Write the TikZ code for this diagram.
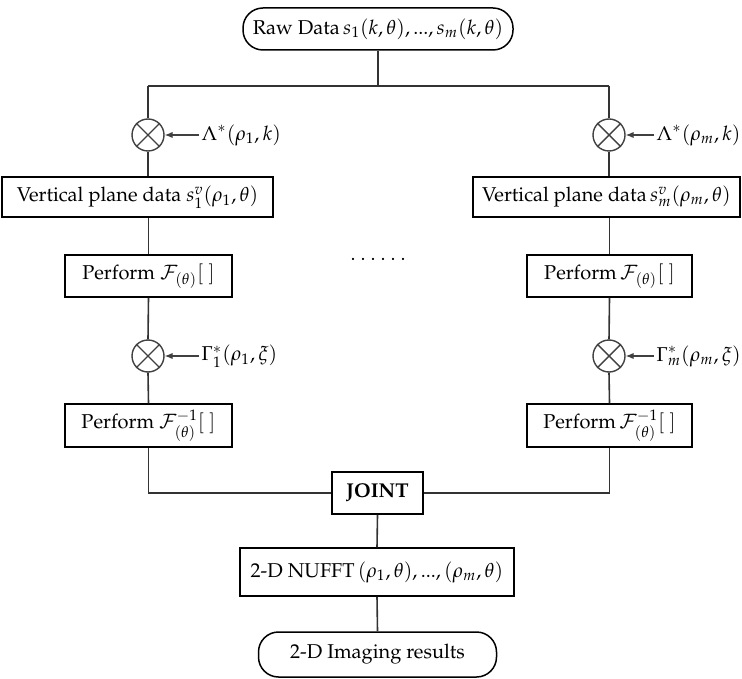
\documentclass[tikz,border=0pt]{standalone}
\usepackage[T1]{fontenc}
\usepackage{mathpazo}
\usetikzlibrary{arrows.meta}
\begin{document}
\begin{tikzpicture}[x=0.5pt,y=-0.5pt,
  every node/.style={font=\fontsize{10}{12}\selectfont},
  ln/.style={draw=black!80,line width=0.8pt},
  box/.style={draw,line width=0.75pt,rectangle,inner sep=0pt},
  term/.style={draw,line width=0.75pt,rectangle,rounded corners=10pt,inner sep=0pt},
  mult/.style={draw=black!75,line width=0.7pt,circle,minimum size=16pt,inner sep=0pt},
  lbl/.style={anchor=west,inner sep=1pt},
  arr/.style={draw=black!75,line width=0.6pt,-{Latex[length=4pt,width=3.2pt]}}
]
\useasboundingbox (0,0) rectangle (742,678);
% nodes
\node[term,minimum width=135pt,minimum height=21pt] (raw) at (378,29) {Raw Data\,$s_1(k,\theta),...,s_m(k,\theta)$};
\coordinate (tj) at (378,86);
\coordinate (tl) at (148,86);
\coordinate (tr) at (609,86);

\node[mult] (m1) at (148,135) {};
\node[lbl] (l1) at (199,135) {$\Lambda^{*}(\rho_1,k)$};
\node[box,minimum width=135.5pt,minimum height=20pt] (vp1) at (137.5,197) {Vertical plane data $s_1^{v}(\rho_1,\theta)$};
\node[box,minimum width=83.5pt,minimum height=21pt] (pf1) at (148.5,276) {Perform $\mathcal{F}_{(\theta)}[\ ]$};
\node[mult] (m2) at (148,356) {};
\node[lbl] (l2) at (199,356) {$\Gamma_1^{*}(\rho_1,\xi)$};
\node[box,minimum width=83.5pt,minimum height=21.5pt] (pi1) at (148.5,425.5) {Perform $\mathcal{F}^{-1}_{(\theta)}[\ ]$};

\node[mult] (n1) at (609,135) {};
\node[lbl] (r1) at (654,135) {$\Lambda^{*}(\rho_m,k)$};
\node[box,minimum width=133.5pt,minimum height=20pt] (vpr) at (606.5,197) {Vertical plane data\,$s_m^{v}(\rho_m,\theta)$};
\node[box,minimum width=82.5pt,minimum height=21pt] (pfr) at (609.5,276) {Perform\,$\mathcal{F}_{(\theta)}[\ ]$};
\node[mult] (n2) at (609,356) {};
\node[lbl] (r2) at (654,356) {$\Gamma_m^{*}(\rho_m,\xi)$};
\node[box,minimum width=82.5pt,minimum height=21.5pt] (pir) at (609.5,425.5) {Perform\,$\mathcal{F}^{-1}_{(\theta)}[\ ]$};

\node (dots) at (378,259) {.\kern2.5pt.\kern2.5pt.\kern2.5pt.\kern2.5pt.\kern2.5pt.};

\node[box,minimum width=45.5pt,minimum height=21pt,font=\fontsize{10}{12}\selectfont\bfseries] (joint) at (377.5,493) {JOINT};
\node[box,minimum width=137pt,minimum height=24pt] (nufft) at (377,572) {2-D NUFFT\,$(\rho_1,\theta),...,(\rho_m,\theta)$};
\node[term,minimum width=119pt,minimum height=22.5pt] (res) at (377.5,654.5) {2-D Imaging results};

% crosses
\foreach \c in {m1,m2,n1,n2}{
  \draw[black!75,line width=0.7pt] (\c.45) -- (\c.225) (\c.135) -- (\c.315);
}
% connectors
\draw[ln] (raw.south) -- (tj);
\draw[ln] (tl) -- (tr);
\draw[ln] (tl) -- (m1.north);
\draw[ln] (tr) -- (n1.north);
\draw[ln] (m1.south) -- (m1.south |- vp1.north);
\draw[ln] (n1.south) -- (n1.south |- vpr.north);
\draw[ln] (pf1.north |- vp1.south) -- (pf1.north);
\draw[ln] (pfr.north |- vpr.south) -- (pfr.north);
\draw[ln] (pf1.south) -- (m2.north);
\draw[ln] (pfr.south) -- (n2.north);
\draw[ln] (m2.south) -- (pi1.north);
\draw[ln] (n2.south) -- (pir.north);
\draw[ln] (pi1.south) -- (pi1.south |- joint.west) -- (joint.west);
\draw[ln] (pir.south) -- (pir.south |- joint.east) -- (joint.east);
\draw[ln] (joint.south) -- (nufft.north);
\draw[ln] (nufft.south) -- (res.north);
% arrows
\draw[arr] (l1.west) -- (m1.east);
\draw[arr] (l2.west) -- (m2.east);
\draw[arr] (r1.west) -- (n1.east);
\draw[arr] (r2.west) -- (n2.east);
\end{tikzpicture}
\end{document}
